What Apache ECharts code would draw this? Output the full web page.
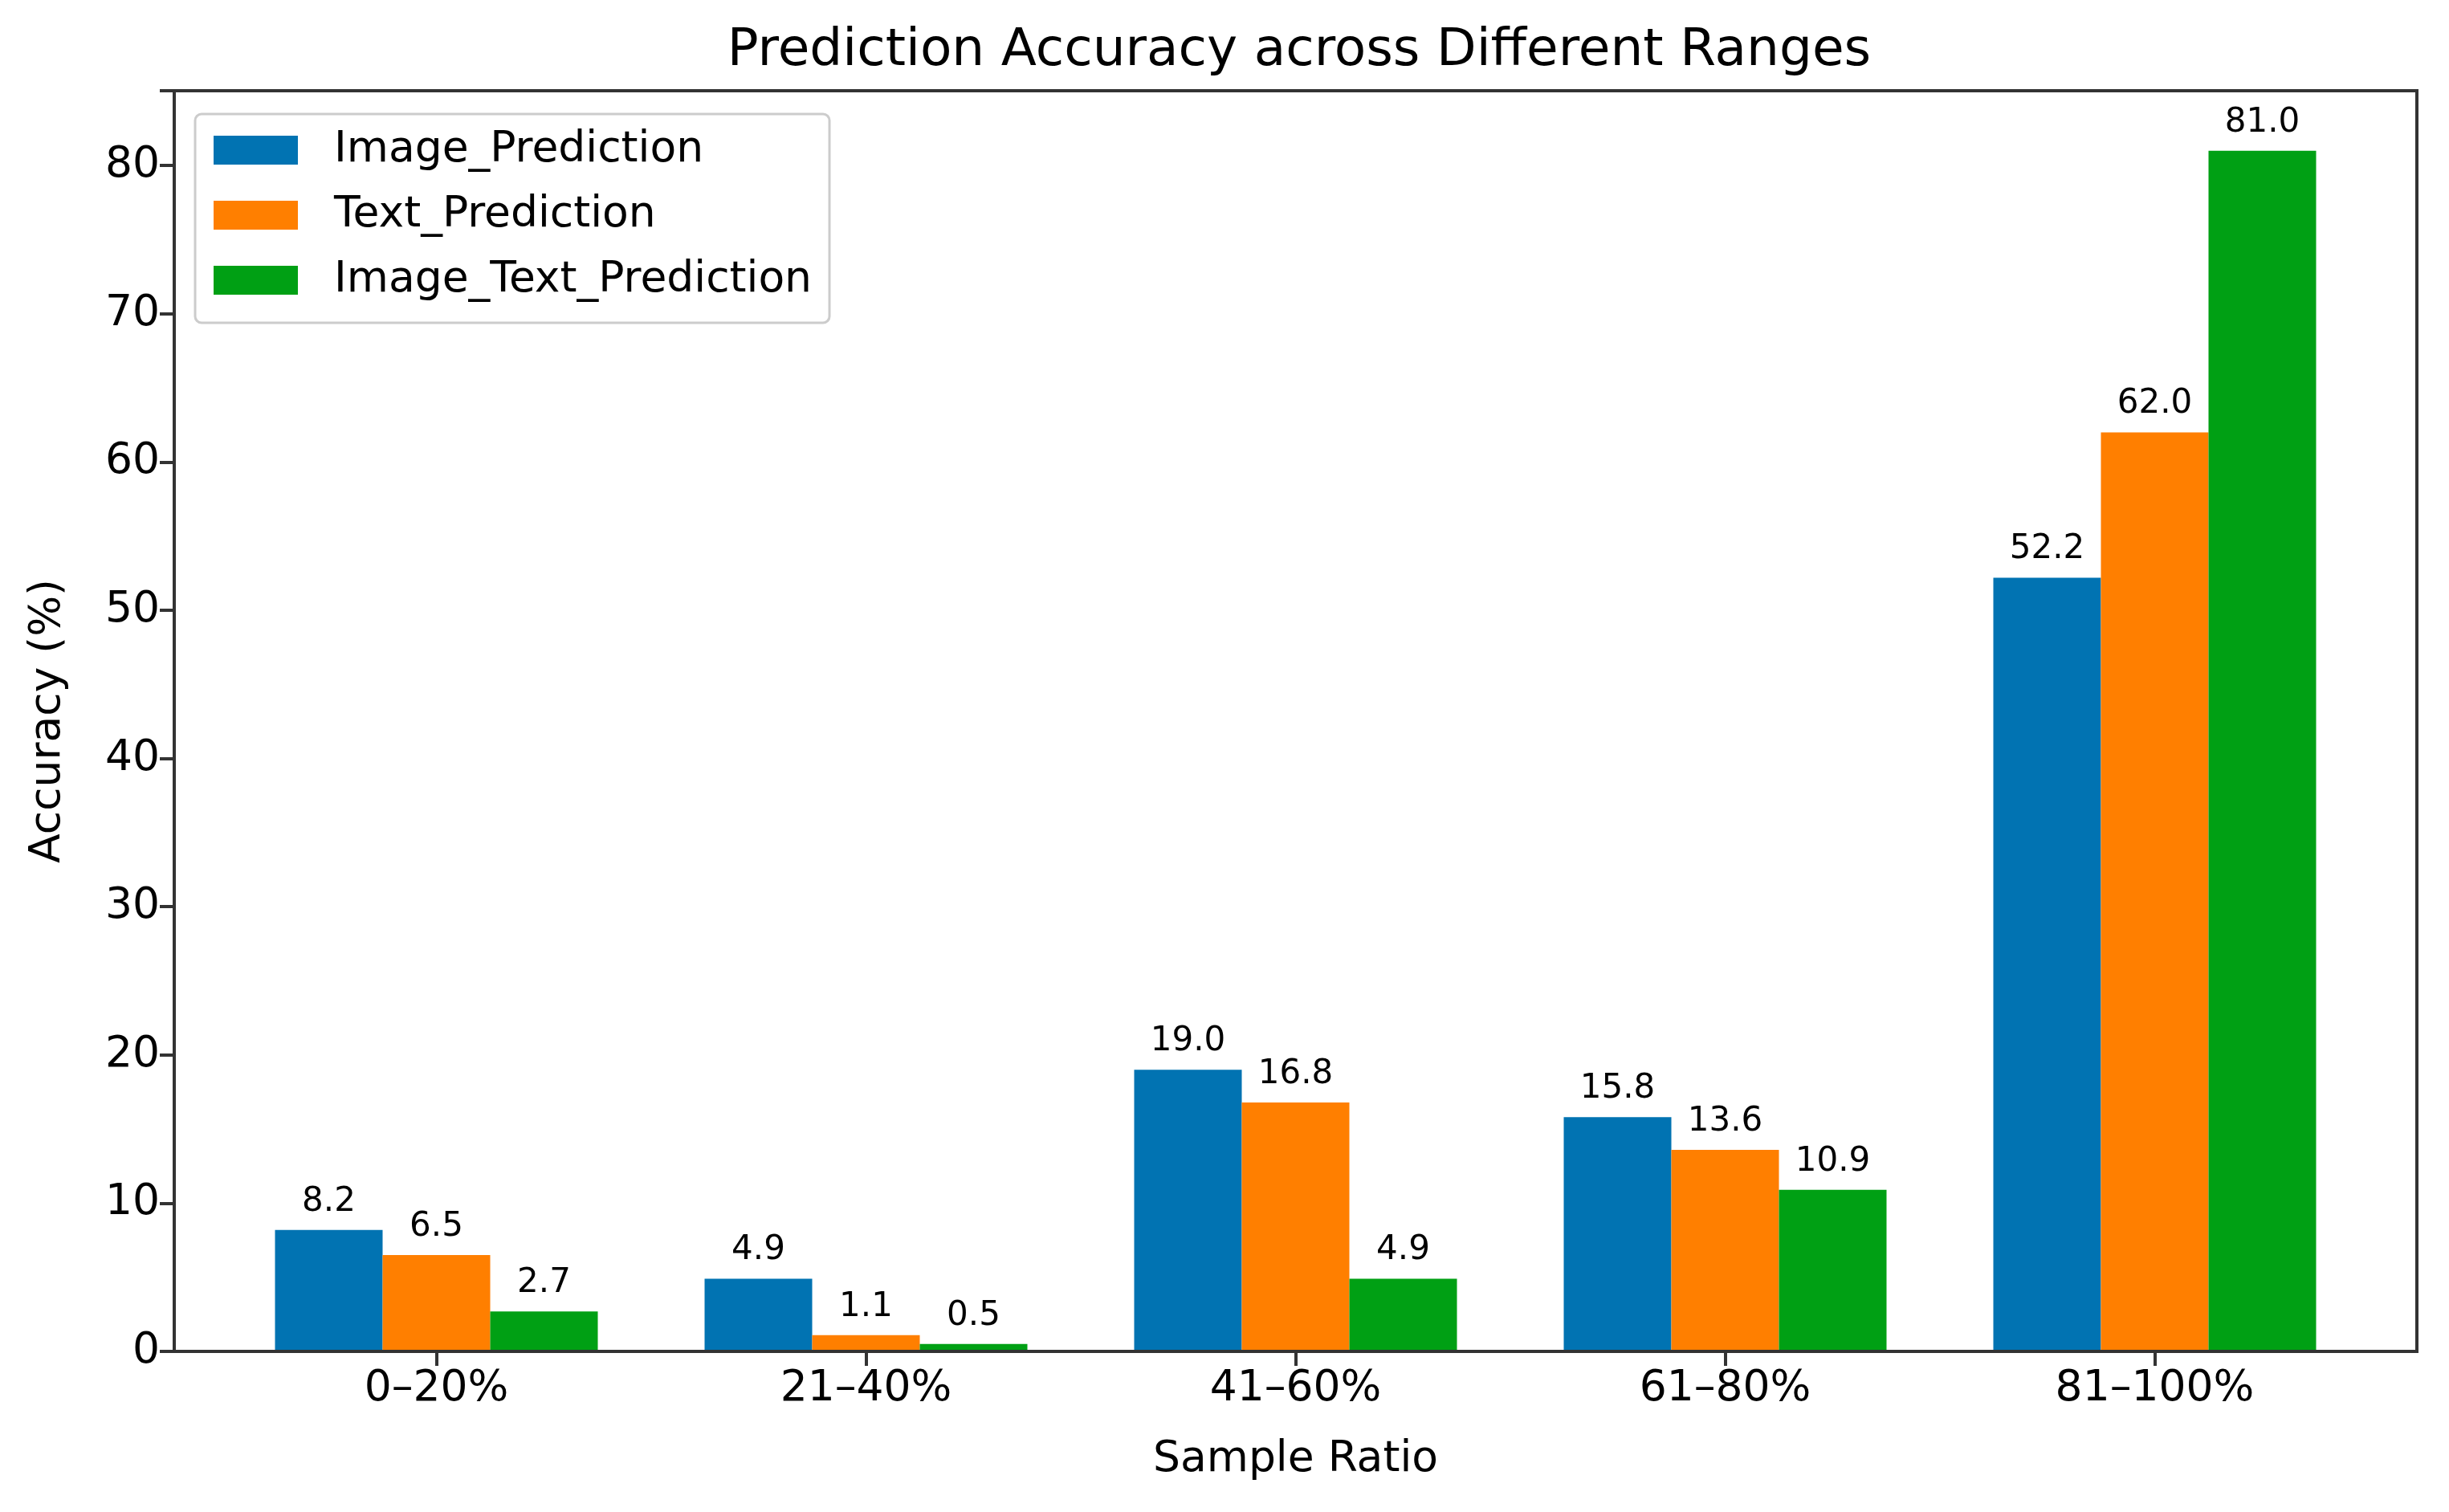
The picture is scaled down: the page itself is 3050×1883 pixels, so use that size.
<!DOCTYPE html>
<html>
<head>
<meta charset="utf-8">
<script src="https://cdn.jsdelivr.net/npm/echarts@6/dist/echarts.min.js"></script>
<style>html,body{margin:0;padding:0;background:#fff}#c{width:3050px;height:1883px}</style>
</head>
<body>
<div id="c"></div>
<script>
const categories = ['0–20%', '21–40%', '41–60%', '61–80%', '81–100%'];
const seriesNames = ['Image_Prediction', 'Text_Prediction', 'Image_Text_Prediction'];
const imagePrediction = [8.2, 4.9, 19.0, 15.8, 52.2];
const textPrediction = [6.5, 1.1, 16.8, 13.6, 62.0];
const imageTextPrediction = [2.7, 0.5, 4.9, 10.9, 81.0];
const yTicks = [0, 10, 20, 30, 40, 50, 60, 70, 80];

const colors = ['#0173B2', '#FF7F00', '#00A014'];
const FONT = 'DejaVu Sans';
const FS = 53.5;
const yMax = 85.05;

const chart = echarts.init(document.getElementById('c'), null, {renderer: 'canvas'});
const values = [imagePrediction, textPrediction, imageTextPrediction];

const option = {
  backgroundColor: '#ffffff',
  animation: false,
  textStyle: {fontFamily: FONT, color: '#000'},
  title: {
    text: 'Prediction Accuracy across Different Ranges',
    left: 1613, top: 27, textAlign: 'center',
    textStyle: {fontFamily: FONT, fontSize: 64.5, fontWeight: 'normal', color: '#000'}
  },
  legend: {
    data: seriesNames,
    orient: 'vertical',
    left: 243, top: 142,
    padding: [18, 22, 26, 23],
    itemWidth: 105, itemHeight: 36, itemGap: 27,
    icon: 'rect',
    backgroundColor: 'rgba(255,255,255,0.8)',
    borderColor: '#cccccc', borderWidth: 3, borderRadius: 8,
    textStyle: {fontFamily: FONT, fontSize: FS, color: '#000', lineHeight: 54, padding: [0, 0, 0, 40]}
  },
  grid: [
    {left: 217, right: 40, top: 113, bottom: 200, show: true, borderColor: '#333', borderWidth: 4, backgroundColor: 'transparent', z: 10},
    {left: 276, right: 99, top: 113, bottom: 200}
  ],
  xAxis: [
    {type: 'value', gridIndex: 0, show: false, min: 0, max: 1},
    {
      type: 'category', gridIndex: 1, data: categories,
      axisLine: {show: false},
      axisTick: {show: true, alignWithLabel: true, length: 18, lineStyle: {color: '#333', width: 4}},
      axisLabel: {fontFamily: FONT, fontSize: FS, color: '#000', margin: 20},
      name: 'Sample Ratio', nameLocation: 'middle', nameGap: 108,
      nameTextStyle: {fontFamily: FONT, fontSize: FS, color: '#000'}
    }
  ],
  yAxis: [
    {
      type: 'value', gridIndex: 0, min: 0, max: yMax, interval: 10,
      axisLine: {show: true, lineStyle: {color: '#333', width: 4}},
      axisTick: {show: true, length: 18, lineStyle: {color: '#333', width: 4}},
      axisLabel: {fontFamily: FONT, fontSize: FS, color: '#000', margin: 18,
        formatter: v => (yTicks.indexOf(v) >= 0 ? String(v) : '')},
      splitLine: {show: false},
      name: 'Accuracy (%)', nameLocation: 'middle', nameGap: 130,
      nameTextStyle: {fontFamily: FONT, fontSize: FS, color: '#000'}
    },
    {type: 'value', gridIndex: 1, min: 0, max: yMax, show: false}
  ],
  series: seriesNames.map((name, i) => ({
    name: name,
    type: 'bar',
    xAxisIndex: 1, yAxisIndex: 1,
    data: values[i],
    barWidth: 134,
    barGap: '0%',
    itemStyle: {color: colors[i]},
    label: {
      show: true, position: 'top', distance: 14,
      fontFamily: FONT, fontSize: 42, color: '#000',
      formatter: p => Number(p.value).toFixed(1)
    }
  }))
};
chart.setOption(option);
</script>
</body>
</html>
